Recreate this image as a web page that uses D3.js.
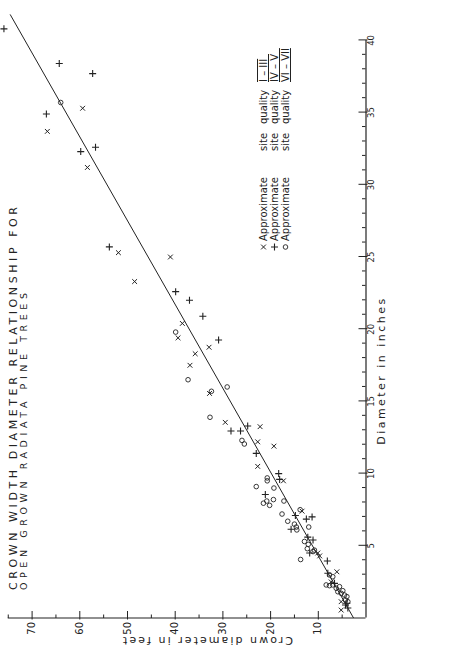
<!DOCTYPE html>
<html>
<head>
<title>Crown width diameter relationship</title>
<script src="https://cdn.jsdelivr.net/npm/d3@7/dist/d3.min.js"></script>
<style>
  body { margin: 0; background: #fff; }
  svg text { fill: #222; }
</style>
</head>
<body>
<div id="chart"></div>
<script>
// values (diameter in inches, crown diameter in feet)
var diamTicks = [5, 10, 15, 20, 25, 30, 35, 40];
var crownTicks = [10, 20, 30, 40, 50, 60, 70];

// x : site quality I - III
var siteIDiam  = [35.3, 33.7, 31.2, 25.3, 25.0, 23.3, 20.4, 19.4, 18.75, 18.3, 17.5, 15.55, 13.55, 13.25, 12.2, 11.9, 10.5, 9.5, 7.4, 4.5, 4.3, 3.2, 2.5, 1.13, 0.55];
var siteICrown = [59.3, 66.7, 58.3, 51.8, 40.9, 48.4, 38.4, 39.3, 32.8, 35.7, 36.8, 32.7, 29.4, 22.1, 22.6, 19.2, 22.6, 17.2, 13.3, 10.0, 9.6, 6.0, 7.2, 5.1, 5.1];

// + : site quality IV - V
var siteIVDiam  = [40.8, 38.4, 37.7, 34.9, 32.6, 32.3, 25.7, 22.6, 22.0, 20.9, 19.25, 12.95, 12.95, 13.3, 11.4, 10.0, 9.6, 8.55, 7.1, 6.85, 7.0, 6.15, 5.6, 5.4, 4.5, 3.95, 3.1, 2.4, 0.9, 1.02, 0.69];
var siteIVCrown = [75.8, 64.2, 57.2, 66.9, 56.6, 59.7, 53.7, 39.8, 36.9, 34.1, 30.8, 28.2, 26.2, 24.7, 22.9, 18.2, 18.0, 21.0, 14.7, 12.4, 11.2, 15.6, 12.1, 11.0, 11.7, 8.0, 7.9, 6.5, 4.2, 3.9, 3.7];

// o : site quality VI - VII
var siteVIDiam  = [35.7, 19.8, 16.5, 16.0, 15.7, 13.9, 12.3, 12.05, 9.7, 9.5, 9.1, 9.0, 8.1, 7.95, 7.8, 8.2, 8.1, 7.2, 6.7, 7.5, 6.5, 6.3, 6.1, 6.3, 5.3, 5.1, 4.8, 4.6, 4.7, 4.05,
                   2.98, 2.86, 2.29, 2.24, 2.29, 2.06, 2.17, 1.82, 1.71, 1.89, 1.59, 1.48, 1.25, 1.13];
var siteVICrown = [63.9, 39.8, 37.2, 29.0, 32.3, 32.6, 25.9, 25.4, 20.6, 20.6, 22.9, 19.2, 20.7, 21.4, 20.1, 19.3, 17.1, 17.5, 16.3, 13.7, 14.9, 14.5, 14.4, 11.9, 12.8, 12.0, 12.2, 11.0, 10.7, 13.6,
                   7.55, 6.86, 8.24, 7.55, 6.86, 6.14, 5.45, 5.8, 5.1, 4.76, 4.4, 3.9, 4.2, 3.7];

// fitted line
var lineDiam  = [0, 41.8];
var lineCrown = [2.5, 74.5];

var legendMarks  = ["x", "+", "o"];
var legendQuality = ["I – III", "IV – V", "VI – VII"];

// the scan is a landscape chart turned on its side, so draw it landscape and rotate
var W = 648, H = 449;

var svg = d3.select("#chart")
  .append("svg")
    .attr("width", H)
    .attr("height", W)
  .append("g")
    .attr("transform", "translate(0," + W + ") rotate(-90)");

var x = d3.scaleLinear().domain([0, 40]).range([30, 607.6]);
var y = d3.scaleLinear().domain([0, 70]).range([365.5, 31.6]);

var ink = "#222";

// axes drawn by hand-ish: bottom = diameter, left = crown
var xAxis = svg.append("g")
  .attr("transform", "translate(0," + y(0) + ")")
  .call(d3.axisBottom(x).tickValues(d3.range(0, 41, 1)).tickSize(0).tickFormat(""));
xAxis.select(".domain").attr("stroke", ink).attr("stroke-width", 1.2);
xAxis.selectAll(".tick line")
  .attr("stroke", ink)
  .attr("y1", function(d) { return d % 5 == 0 ? 2 : 0; })
  .attr("y2", function(d) { return d % 5 == 0 ? -7 : -3.5; });
xAxis.selectAll(".tick").filter(function(d) { return d == 0; }).remove();

svg.selectAll(".dlab")
  .data(diamTicks)
  .enter()
  .append("text")
    .attr("class", "dlab")
    .attr("x", function(d) { return x(d); })
    .attr("y", y(0) + 8.5)
    .attr("text-anchor", "middle")
    .style("font-family", "DejaVu Sans")
    .style("font-size", "8.5px")
    .text(function(d) { return d; });

var yAxis = svg.append("g")
  .attr("transform", "translate(" + x(0) + ",0)")
  .call(d3.axisLeft(y).tickValues(d3.range(5, 76, 5)).tickSize(0).tickFormat(""));
yAxis.select(".domain").attr("stroke", ink).attr("stroke-width", 1.2)
  .attr("d", "M0," + y(0) + "V" + y(75));
yAxis.selectAll(".tick line")
  .attr("stroke", ink)
  .attr("x1", function(d) { return d % 10 == 0 ? -1.5 : 0; })
  .attr("x2", function(d) { return d % 10 == 0 ? 7 : 3.5; });

svg.selectAll(".clab")
  .data(crownTicks)
  .enter()
  .append("text")
    .attr("class", "clab")
    .attr("x", x(0) - 4)
    .attr("y", function(d) { return y(d) + 3.5; })
    .attr("text-anchor", "end")
    .style("font-family", "DejaVu Sans")
    .style("font-size", "10px")
    .text(function(d) { return d; });

// axis titles
svg.append("text")
  .attr("x", x(17.05))
  .attr("y", 385)
  .attr("text-anchor", "middle")
  .attr("textLength", 146)
  .attr("lengthAdjust", "spacing")
  .style("font-family", "DejaVu Sans")
  .style("font-size", "11px")
  .text("Diameter in inches");

svg.append("text")
  .attr("transform", "translate(11," + 208 + ") rotate(-90)")
  .attr("text-anchor", "middle")
  .attr("textLength", 170)
  .attr("lengthAdjust", "spacing")
  .style("font-family", "DejaVu Sans")
  .style("font-size", "11px")
  .text("Crown diameter in feet");

// title
svg.append("text")
  .attr("x", 58).attr("y", 17)
  .attr("textLength", 383)
  .attr("lengthAdjust", "spacing")
  .style("font-family", "DejaVu Sans")
  .style("font-size", "11px")
  .text("CROWN WIDTH DIAMETER RELATIONSHIP FOR");
svg.append("text")
  .attr("x", 58).attr("y", 27)
  .attr("textLength", 297)
  .attr("lengthAdjust", "spacing")
  .style("font-family", "DejaVu Sans")
  .style("font-size", "9.5px")
  .text("OPEN GROWN RADIATA PINE TREES");

// regression line
svg.append("line")
  .attr("x1", x(lineDiam[0])).attr("y1", y(lineCrown[0]))
  .attr("x2", x(lineDiam[1])).attr("y2", y(lineCrown[1]))
  .attr("stroke", ink)
  .attr("stroke-width", 1);

// markers
function drawCross(g, cx, cy) {
  g.append("path")
    .attr("d", "M" + (cx - 2.4) + "," + (cy - 2.4) + "L" + (cx + 2.4) + "," + (cy + 2.4) +
               "M" + (cx - 2.4) + "," + (cy + 2.4) + "L" + (cx + 2.4) + "," + (cy - 2.4))
    .attr("stroke", ink).attr("stroke-width", 1).attr("fill", "none");
}
function drawPlus(g, cx, cy) {
  g.append("path")
    .attr("d", "M" + (cx - 3.5) + "," + cy + "H" + (cx + 3.5) + "M" + cx + "," + (cy - 3.5) + "V" + (cy + 3.5))
    .attr("stroke", ink).attr("stroke-width", 1.1).attr("fill", "none");
}
function drawRing(g, cx, cy) {
  g.append("circle")
    .attr("cx", cx).attr("cy", cy).attr("r", 2.3)
    .attr("stroke", ink).attr("stroke-width", 0.9).attr("fill", "none");
}

var pts = svg.append("g");
siteIDiam.forEach(function(d, i) { drawCross(pts, x(d), y(siteICrown[i])); });
siteIVDiam.forEach(function(d, i) { drawPlus(pts, x(d), y(siteIVCrown[i])); });
siteVIDiam.forEach(function(d, i) { drawRing(pts, x(d), y(siteVICrown[i])); });

// legend
var markFns = [drawCross, drawPlus, drawRing];
var legendBase = [267, 278, 289];
legendMarks.forEach(function(m, i) {
  var by = legendBase[i];
  markFns[i](svg, 401, by - 3.5);
  var t = svg.append("text")
    .attr("y", by)
    .style("font-family", "DejaVu Sans")
    .style("font-size", "10px");
  t.append("tspan").attr("x", 407).text("Approximate");
  t.append("tspan").attr("x", 497).text("site");
  t.append("tspan").attr("x", 524).text("quality");
  t.append("tspan").attr("x", 566)
    .style("text-decoration", "underline overline")
    .text(legendQuality[i]);
});
</script>
</body>
</html>
